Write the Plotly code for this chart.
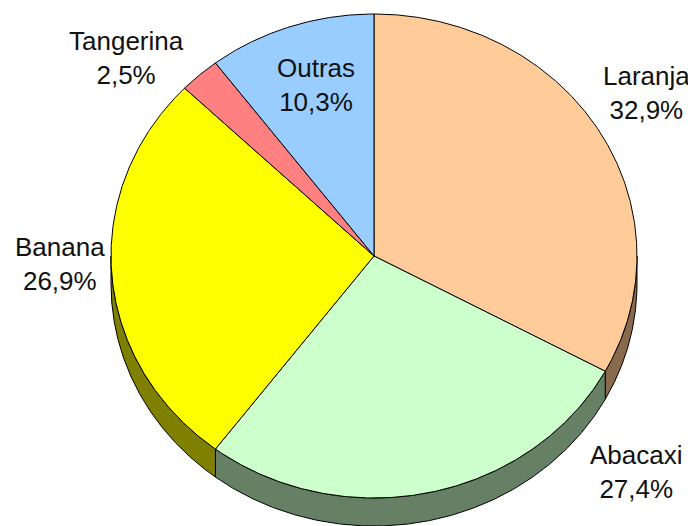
import numpy as np
import plotly.graph_objects as go

# ---- data ----
categories = ["Laranja", "Abacaxi", "Banana", "Tangerina", "Outras"]
values = [32.9, 27.4, 26.9, 2.5, 10.3]

# ---- style ----
top_colors = ["#FFCC99", "#CCFFCC", "#FFFF00", "#FF8080", "#99CCFF"]
side_colors = ["#8A6A4C", "#668066", "#808000", "#804040", "#4D6680"]
label_pos = [(646, 93), (636, 472), (60, 264), (126, 58), (316, 85)]

W, H = 696, 526
OFF = 8  # page body margin compensation
CX, CY, RX, RY, DEPTH = 374, 256, 263, 242, 28


def pt(a, dy=0.0):
    r = np.radians(a)
    return CX + RX * np.sin(r), CY - RY * np.cos(r) + dy


fig = go.Figure()

total = sum(values)
bounds = np.concatenate([[0], np.cumsum(values)]) / total * 360.0

# side walls (front half only)
for i, cat in enumerate(categories):
    a0, a1 = bounds[i], bounds[i + 1]
    lo, hi = max(a0, 90), min(a1, 270)
    if lo >= hi:
        continue
    angs = np.linspace(lo, hi, 200)
    xs_t, ys_t = pt(angs)
    xs_b, ys_b = pt(angs[::-1], DEPTH)
    xs = np.concatenate([xs_t, xs_b, xs_t[:1]])
    ys = np.concatenate([ys_t, ys_b, ys_t[:1]])
    fig.add_trace(go.Scatter(x=xs, y=ys, mode="lines", fill="toself",
                             fillcolor=side_colors[i],
                             line=dict(color="black", width=1),
                             hoverinfo="skip", showlegend=False))

# top faces
for i, cat in enumerate(categories):
    a0, a1 = bounds[i], bounds[i + 1]
    angs = np.linspace(a0, a1, 300)
    xa, ya = pt(angs)
    xs = np.concatenate([[CX], xa, [CX]])
    ys = np.concatenate([[CY], ya, [CY]])
    fig.add_trace(go.Scatter(x=xs, y=ys, mode="lines", fill="toself",
                             fillcolor=top_colors[i],
                             line=dict(color="black", width=1),
                             hoverinfo="skip", showlegend=False, name=cat))

for i, cat in enumerate(categories):
    txt = f"{cat}<br>{values[i]:.1f}%".replace(".", ",")
    x, y = label_pos[i]
    fig.add_annotation(x=x, y=y, text=txt, showarrow=False,
                       xanchor="center", yanchor="middle",
                       font=dict(family="Liberation Sans, Arial", size=26, color="#111111"))

fig.update_layout(
    width=W, height=H,
    margin=dict(l=0, r=0, t=0, b=0),
    paper_bgcolor="white", plot_bgcolor="white",
    xaxis=dict(range=[OFF, W + OFF], visible=False, fixedrange=True),
    yaxis=dict(range=[H + OFF, OFF], visible=False, fixedrange=True),
)

fig.write_html("out.html")
